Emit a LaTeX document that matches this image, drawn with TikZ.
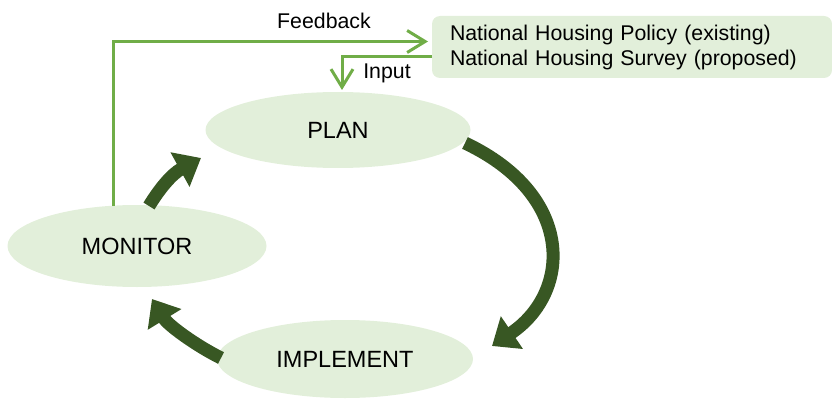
\documentclass[tikz,border=0pt]{standalone}
\usepackage{fontspec}
\setmainfont{Liberation Sans}
\usetikzlibrary{arrows.meta,shapes.geometric}
\definecolor{lightg}{HTML}{E2EFDA}
\definecolor{lineg}{HTML}{70AD47}
\definecolor{darkg}{HTML}{385723}
\begin{document}
\begin{tikzpicture}[x=1pt,y=-1pt,
  stage/.style={ellipse, fill=lightg, inner sep=0pt, font=\fontsize{23.5}{28}\selectfont},
  infobox/.style={rectangle, rounded corners=8pt, fill=lightg, minimum width=400pt, minimum height=62pt,
    inner xsep=18pt, text width=364pt, align=left, font=\fontsize{21.3}{25}\selectfont},
  lbl/.style={inner sep=0pt, font=\fontsize{21.3}{25}\selectfont},
  thinarrow/.style={draw=lineg, line width=3pt, -{Straight Barb[length=18pt,width=22pt]}},
  bigarrow/.style={draw=darkg, line width=13pt, -{Triangle[length=24pt,width=38pt]}}]
\path[use as bounding box] (0,0) rectangle (832,401);
% stages
\node[stage, minimum width=265pt, minimum height=76pt] (plan) at (338,130) {PLAN};
\node[stage, minimum width=259pt, minimum height=82pt] (monitor) at (137,246) {MONITOR};
\node[stage, minimum width=256pt, minimum height=78pt] (implement) at (345,359) {IMPLEMENT};
% info box
\node[infobox] (box) at (632,47) {National Housing Policy (existing)\\National Housing Survey (proposed)};
% feedback / input
\coordinate (fbstart) at (113.5,206);
\coordinate (fbend) at (428,41.5);
\draw[thinarrow] (fbstart) |- (fbend);
\node[lbl] (fblabel) at (324,21) {Feedback};
\coordinate (instart) at (432,57);
\coordinate (inend) at (342,90);
\draw[thinarrow] (instart) -| (inend);
\node[lbl] (inlabel) at (387,73) {Input};
% cycle arrows
\coordinate (a1s) at (465,143);
\coordinate (a1e) at (492,346);
\draw[bigarrow] (a1s) .. controls (575,195) and (572,292) .. (a1e);
\coordinate (a2s) at (221,358);
\coordinate (a2e) at (152,299);
\draw[bigarrow] (a2s) .. controls (195,345) and (168,325) .. (a2e);
\coordinate (a3s) at (149,206);
\coordinate (a3e) at (201,158);
\draw[bigarrow] (a3s) .. controls (160,188) and (172,174) .. (a3e);
\end{tikzpicture}
\end{document}
